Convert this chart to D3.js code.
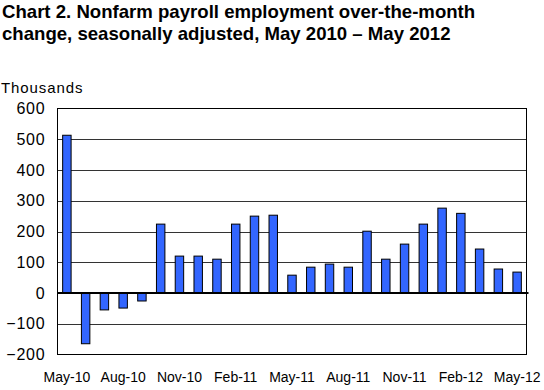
<!DOCTYPE html>
<html>
<head>
<meta charset="utf-8">
<script src="https://cdn.jsdelivr.net/npm/d3@7"></script>
<style>
  body { margin: 0; background: #fff; }
  text { font-family: Arial, "Liberation Sans", sans-serif; fill: #000; }
</style>
</head>
<body>
<div id="chart"></div>
<script>
// monthly change, thousands
const months = ["May-10","Jun-10","Jul-10","Aug-10","Sep-10","Oct-10","Nov-10","Dec-10",
  "Jan-11","Feb-11","Mar-11","Apr-11","May-11","Jun-11","Jul-11","Aug-11","Sep-11",
  "Oct-11","Nov-11","Dec-11","Jan-12","Feb-12","Mar-12","Apr-12","May-12"];
const changes = [513, -165, -55, -49, -26, 224, 120, 120, 110, 224, 250, 253,
  58, 84, 94, 84, 201, 110, 159, 224, 276, 259, 143, 78, 68];
const yTicks = [-200, -100, 0, 100, 200, 300, 400, 500, 600];
const xLabels = ["May-10","Aug-10","Nov-10","Feb-11","May-11","Aug-11","Nov-11","Feb-12","May-12"];

const width = 544, height = 390;
const margin = {top: 108.5, right: 17.5, bottom: 35.5, left: 57.5};

const svg = d3.select("#chart").append("svg")
  .attr("width", width)
  .attr("height", height);

// titre
const title = svg.append("text")
  .attr("x", 2).attr("y", 18)
  .style("font-size", "18.6px").style("font-weight", "bold");
title.append("tspan").attr("x", 2).text("Chart 2. Nonfarm payroll employment over-the-month");
title.append("tspan").attr("x", 2).attr("dy", 22).text("change, seasonally adjusted, May 2010 \u2013 May 2012");

svg.append("text")
  .attr("x", 1).attr("y", 93)
  .style("font-size", "15px")
  .style("letter-spacing", "0.9px")
  .text("Thousands");

const x = d3.scaleBand()
  .domain(months)
  .range([margin.left, width - margin.right])
  .paddingInner(0.55).paddingOuter(0.275);

const y = d3.scaleLinear()
  .domain([-200, 600])
  .range([height - margin.bottom, margin.top]);

// grille
svg.append("g")
  .selectAll("line")
  .data(yTicks.filter(d => d !== 0 && d !== 600 && d !== -200))
  .join("line")
  .attr("x1", margin.left).attr("x2", width - margin.right)
  .attr("y1", d => Math.round(y(d)) + 0.5).attr("y2", d => Math.round(y(d)) + 0.5)
  .attr("stroke", "#333").attr("stroke-width", 1);

// axe y
svg.append("g")
  .attr("transform", `translate(${margin.left},0)`)
  .call(d3.axisLeft(y).tickValues(yTicks).tickSize(0).tickPadding(12))
  .call(g => g.select(".domain").remove())
  .call(g => g.selectAll("text")
    .style("font-size", "16px")
    .style("letter-spacing", "0.8px")
    .attr("font-family", null));

// barres
svg.append("g")
  .selectAll("rect")
  .data(changes)
  .join("rect")
  .attr("x", (d, i) => x(months[i]))
  .attr("width", x.bandwidth())
  .attr("y", d => y(Math.max(0, d)))
  .attr("height", d => Math.abs(y(d) - y(0)))
  .attr("fill", "#3366ff")
  .attr("stroke", "#000")
  .attr("stroke-width", 1);

// cadre
svg.append("rect")
  .attr("x", margin.left).attr("y", margin.top)
  .attr("width", width - margin.left - margin.right)
  .attr("height", height - margin.top - margin.bottom)
  .attr("fill", "none").attr("stroke", "#000").attr("stroke-width", 1);

// ligne zéro
svg.append("line")
  .attr("x1", margin.left).attr("x2", width - margin.right + 2)
  .attr("y1", y(0)).attr("y2", y(0))
  .attr("stroke", "#000").attr("stroke-width", 2);

// axe x
svg.append("g")
  .attr("transform", `translate(0,${height - margin.bottom})`)
  .call(d3.axisBottom(x).tickValues(xLabels).tickSize(0).tickPadding(18))
  .call(g => g.select(".domain").remove())
  .call(g => g.selectAll("text")
    .style("font-size", "14px")
    .attr("font-family", null));
</script>
</body>
</html>
